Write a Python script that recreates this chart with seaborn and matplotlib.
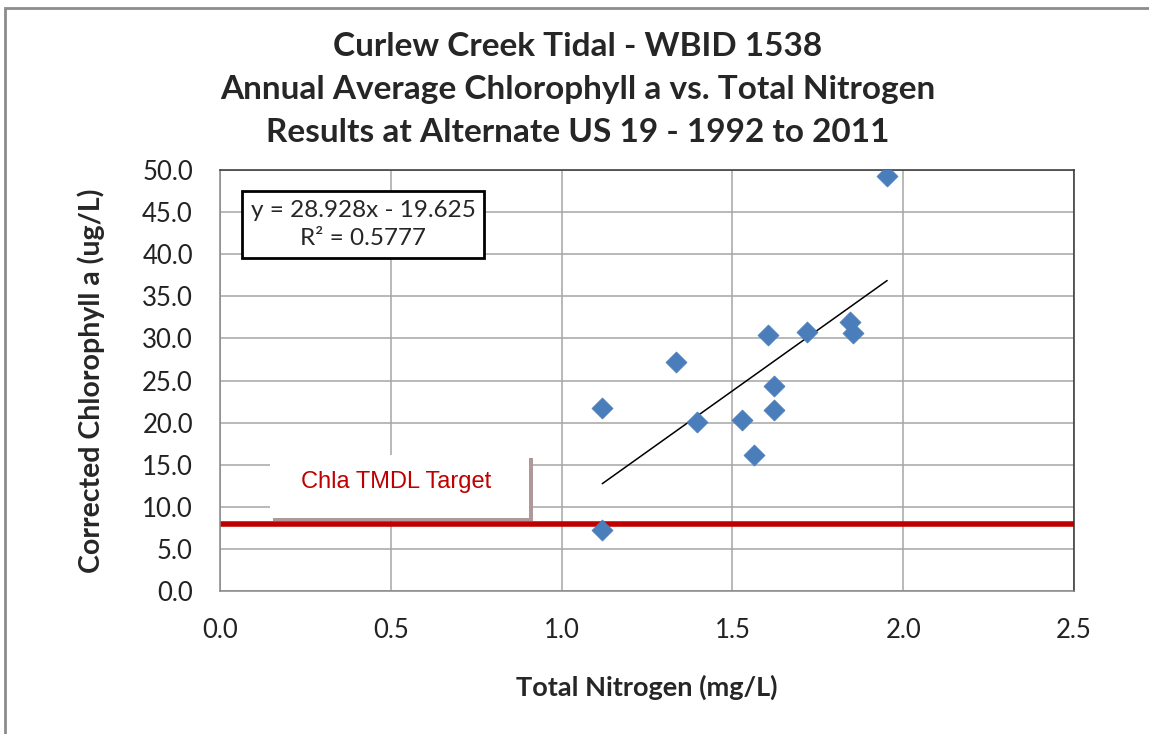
import numpy as np
import pandas as pd
import matplotlib.pyplot as plt
import seaborn as sns
from matplotlib.patches import Rectangle

# dados
nitrogenio = [1.119, 1.119, 1.335, 1.397, 1.528, 1.562, 1.604, 1.621, 1.621, 1.717, 1.844, 1.853, 1.953]
clorofila = [21.7, 7.3, 27.2, 20.1, 20.3, 16.2, 30.4, 24.4, 21.5, 30.8, 32.0, 30.7, 49.3]

# linha de tendencia (do proprio grafico)
inclinacao = 28.928
intercepto = -19.625
r2 = 0.5777

meta_tmdl = 8.0

x_ticks = [0.0, 0.5, 1.0, 1.5, 2.0, 2.5]
y_ticks = [0, 5, 10, 15, 20, 25, 30, 35, 40, 45, 50]

titulo = ["Curlew Creek Tidal - WBID 1538",
          "Annual Average Chlorophyll a vs. Total Nitrogen",
          "Results at Alternate US 19 - 1992 to 2011"]

df = pd.DataFrame({'TN': nitrogenio, 'Chla': clorofila})
x_fit = np.array([df['TN'].min(), df['TN'].max()])
df_fit = pd.DataFrame({'TN': x_fit, 'Chla': inclinacao * x_fit + intercepto})

sns.set_style("whitegrid")
plt.rcParams['font.family'] = ['Lato', 'DejaVu Sans']

fig = plt.figure(figsize=(11.49, 7.34), dpi=100)
ax = fig.add_axes([0.1915, 0.1948, 0.7432, 0.5736])

ax.axhline(meta_tmdl, color='#C00000', lw=4, zorder=2)
sns.lineplot(data=df_fit, x='TN', y='Chla', color='black', lw=1.1, ax=ax, zorder=3)
sns.scatterplot(data=df, x='TN', y='Chla', marker='D', s=115, color='#4A7EBB',
                edgecolor='#4A7EBB', linewidth=0.5, ax=ax, zorder=4)

ax.set_xlim(0, 2.5)
ax.set_ylim(0, 50)
ax.set_xticks(x_ticks)
ax.set_yticks(y_ticks)
ax.set_xticklabels([f'{v:.1f}' for v in x_ticks])
ax.set_yticklabels([f'{v:.1f}' for v in y_ticks])
ax.tick_params(axis='both', labelsize=18.5, colors='#222222', length=6.5, width=1,
               direction='out', color='#888888')
ax.tick_params(axis='x', pad=13)
ax.tick_params(axis='y', pad=13)
ax.grid(True, color='#A6A6A6', lw=1.1)
for s in ['left', 'bottom']:
    ax.spines[s].set_color('#888888')
    ax.spines[s].set_linewidth(1.1)
for s in ['top', 'right']:
    ax.spines[s].set_color('#333333')
    ax.spines[s].set_linewidth(1.1)
ax.set_xlabel('Total Nitrogen (mg/L)', fontsize=19.5, fontweight='bold', labelpad=23)
ax.set_ylabel('Corrected Chlorophyll a (ug/L)', fontsize=20.5, fontweight='bold', labelpad=27)

# caixa da equacao
ax.text(0.1675, 0.8706, f'y = {inclinacao}x - {abs(intercepto)}\nR² = {r2}',
        transform=ax.transAxes, ha='center', va='center', fontsize=17.5,
        linespacing=1.45, zorder=6,
        bbox=dict(boxstyle='square,pad=0.36', fc='white', ec='black', lw=2))

# caixa "Chla TMDL Target" com sombra
ax.add_patch(Rectangle((0.062, 0.166), 0.305, 0.151, transform=ax.transAxes,
                       fc='#B09898', ec='none', zorder=5, clip_on=False))
ax.add_patch(Rectangle((0.0585, 0.173), 0.3035, 0.150, transform=ax.transAxes,
                       fc='white', ec='none', zorder=5, clip_on=False))
ax.text(0.206, 0.259, 'Chla TMDL Target', transform=ax.transAxes, ha='center',
        va='center', fontsize=17, color='#C00000', family=['Liberation Sans', 'DejaVu Sans'],
        zorder=6)

# titulo
for i, linha in enumerate(titulo):
    fig.text(0.503, 1 - (46 + 43.5 * i) / 734, linha, ha='center', va='center',
             fontsize=24, fontweight='bold')

# moldura cinza
fig.add_artist(Rectangle((5 / 1149, -0.05), 1.2, 1 - 8 / 734 + 0.05, transform=fig.transFigure,
                         fill=False, ec='#8C8C8C', lw=2))

plt.savefig('out.png', dpi=100)
